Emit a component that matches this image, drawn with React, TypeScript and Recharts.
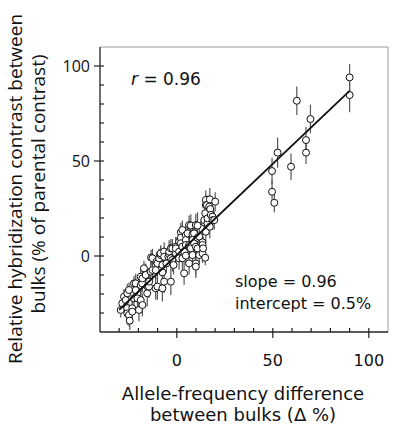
import React from "react";
import {
  ScatterChart,
  Scatter,
  XAxis,
  YAxis,
  ErrorBar,
  ReferenceLine,
} from "recharts";

// allele-frequency difference between bulks (Δ %), one entry per marker
const alleleDiff = [
  -29.2, -28.4, -27.5, -26.6, -25.8, -25.8, -25.8, -24.9, -24.5, -24.9,
  -23.2, -23.2, -22.3, -22.3, -21.4, -21.4, -20.5, -19.7, -18.8, -18.8,
  -18.8, -18.0, -17.9, -17.9, -17.1, -16.2, -15.4, -15.3, -14.5, -14.4,
  -13.6, -13.4, -12.7, -12.7, -11.0, -11.0, -10.6, -10.1, -10.1, -9.2,
  -8.4, -8.4, -7.5, -7.5, -7.5, -6.6, -6.6, -6.6, -5.4, -4.4,
  -4.0, -4.0, -3.1, -3.1, -3.1, -2.3, -2.3, -1.7, -0.5, -0.5,
  -0.5, 1.2, 1.2, 1.2, 2.1, 2.1, 2.1, 2.9, 2.9, 2.9,
  3.8, 3.8, 4.7, 4.7, 4.7, 4.7, 5.6, 6.4, 6.4, 6.4,
  7.3, 7.3, 8.2, 8.2, 8.2, 9.0, 9.0, 9.9, 9.9, 9.9,
  9.9, 10.8, 10.8, 10.8, 11.7, 11.7, 13.4, 13.4, 13.4, 13.7,
  14.3, 14.3, 14.8, 14.8, 15.1, 15.1, 15.1, 15.7, 16.0, 16.0,
  16.9, 17.2, 17.2, 17.4, 17.7, 18.6, 18.6, 20.0, 19.5,
  49.6, 49.6, 50.8, 52.5, 59.5, 62.5, 67.3, 67.3, 69.6, 90.0, 90.0,
];

// relative hybridization contrast (% of parental contrast)
const hybContrast = [
  -28.4, -24.9, -21.4, -23.2, -19.6, -27.5, -30.2, -31.0, -34.0, -17.9,
  -27.5, -29.3, -22.3, -14.4, -17.9, -14.4, -22.3, -28.4, -23.2, -10.9,
  -15.3, -14.4, -25.8, -11.8, -6.5, -10.0, -19.6, -16.0, -16.1, -13.5,
  -8.2, -0.8, -7.4, -1.2, -17.0, -7.4, -3.0, -3.9, -16.1, -1.2,
  0.5, 1.4, -8.6, -4.7, -17.0, 2.3, -0.4, -13.5, -3.9, -0.4,
  1.0, 2.3, -13.5, 4.0, -1.2, 4.0, -2.1, -4.7, 4.9, 1.4,
  4.0, 7.5, 2.3, -1.2, 12.5, 9.6, 6.7, 13.7, 4.9, -1.2,
  2.3, -9.1, 11.0, 8.4, 5.8, 0.2, 11.9, 5.8, -3.9, 16.3,
  16.0, 4.0, 11.4, 8.4, 0.5, 6.7, 11.9, 16.3, 4.9, -3.9,
  -5.6, 16.0, 9.6, 4.0, 10.2, 0.5, 7.2, 5.8, 1.4, 4.0,
  17.7, 18.9, 22.5, -0.9, 12.8, 29.5, 26.8, 26.8, 17.2, 19.8,
  26.0, 29.8, 15.4, 24.7, 21.6, 20.7, 18.9, 28.6, 18.9,
  44.7, 33.8, 28.0, 54.4, 47.0, 81.7, 61.0, 54.4, 72.1, 94.0, 84.7,
];

// standard error of each contrast value
const contrastErr = [
  4, 5, 4, 6, 5, 5, 6, 6, 5, 4,
  6, 5, 5, 4, 6, 5, 5, 6, 7, 5,
  6, 5, 6, 5, 4, 6, 7, 5, 6, 5,
  5, 4, 6, 5, 6, 5, 5, 6, 7, 5,
  5, 4, 6, 5, 7, 5, 5, 6, 5, 5,
  5, 6, 7, 5, 5, 5, 6, 5, 5, 5,
  6, 5, 5, 6, 5, 6, 5, 5, 5, 6,
  5, 6, 5, 5, 6, 5, 5, 5, 6, 5,
  6, 5, 6, 5, 5, 5, 5, 6, 5, 6,
  6, 7, 5, 5, 6, 5, 5, 6, 5, 6,
  6, 5, 5, 4, 5, 5, 5, 5, 6, 5,
  6, 6, 6, 5, 5, 6, 5, 5, 5,
  7, 6, 5, 8, 7, 7.5, 7, 6, 7.5, 7, 9,
];

const slope = 0.96;
const intercept = 0.5;
const fitRange = [-30, 90];

const axisTicks = [-30, -20, -10, 0, 10, 20, 30, 40, 50, 60, 70, 80, 90, 100];
const labeledTicks = [0, 50, 100];

const points = alleleDiff.map((x, i) => ({
  x,
  y: hybContrast[i],
  err: contrastErr[i],
}));

const fitLine = fitRange.map((x) => ({ x, y: slope * x + intercept }));

const SANS = "'DejaVu Sans', Verdana, sans-serif";
const SEGOE = "'Open Sans', 'Noto Sans', sans-serif";

const XTick = ({ x, y, payload }: any) => {
  const major = labeledTicks.includes(payload.value);
  return (
    <g>
      <line x1={x} x2={x} y1={y - 4} y2={major ? y + 6 : y} stroke="#222" strokeWidth={1.2} />
      {major && (
        <text x={x} y={y + 34} textAnchor="middle" fontSize={16} fontFamily={SANS} fill="#111">
          {payload.value}
        </text>
      )}
    </g>
  );
};

const YTick = ({ x, y, payload }: any) => {
  const major = labeledTicks.includes(payload.value);
  return (
    <g>
      <line x1={major ? x - 6 : x} x2={x + 4} y1={y} y2={y} stroke="#222" strokeWidth={1.2} />
      {major && (
        <text x={x - 10} y={y + 6} textAnchor="end" fontSize={16} fontFamily={SEGOE} fill="#111">
          {payload.value}
        </text>
      )}
    </g>
  );
};

const Dot = ({ cx, cy }: any) => (
  <circle cx={cx} cy={cy} r={3.5} fill="#fff" stroke="#111" strokeWidth={1} />
);

export default function App() {
  return (
    <div style={{ position: "absolute", left: 0, top: 0, background: "#fff" }}>
      <ScatterChart
        width={394}
        height={432}
        margin={{ top: 47, right: 6, bottom: 0, left: 0 }}
      >
        <XAxis
          type="number"
          dataKey="x"
          domain={[-40, 110]}
          ticks={axisTicks}
          interval={0}
          tickSize={0}
          tickMargin={0}
          tick={<XTick />}
          height={100}
          axisLine={{ stroke: "#222", strokeWidth: 1.3 }}
        />
        <YAxis
          type="number"
          dataKey="y"
          domain={[-40, 110]}
          ticks={axisTicks}
          interval={0}
          tickSize={0}
          tickMargin={0}
          tick={<YTick />}
          width={100}
          axisLine={{ stroke: "#222", strokeWidth: 1.3 }}
        />
        <ReferenceLine y={110} stroke="#9a9a9a" strokeWidth={1} />
        <ReferenceLine x={110} stroke="#9a9a9a" strokeWidth={1} />
        <Scatter data={points} shape={<Dot />} isAnimationActive={false}>
          <ErrorBar dataKey="err" direction="y" width={0} stroke="#555" strokeWidth={1.2} />
        </Scatter>
        <Scatter
          data={fitLine}
          line={{ stroke: "#111", strokeWidth: 1.8 }}
          shape={() => <g />}
          isAnimationActive={false}
        />
        <text x={131} y={85} fontSize={17} fontFamily={SANS} fill="#111">
          <tspan fontStyle="italic">r</tspan> = 0.96
        </text>
        <text x={235} y={287} fontSize={16} fontFamily={SANS} fill="#111">
          slope = 0.96
        </text>
        <text x={235} y={309} fontSize={16} fontFamily={SANS} fill="#111">
          intercept = 0.5%
        </text>
        <text x={243} y={400} textAnchor="middle" fontSize={18} fontFamily={SANS} fill="#111">
          Allele-frequency difference
        </text>
        <text x={243} y={421} textAnchor="middle" fontSize={18} fontFamily={SANS} fill="#111">
          between bulks (Δ %)
        </text>
        <text
          transform="translate(22,189) rotate(-90)"
          textAnchor="middle"
          fontSize={19}
          fontFamily={SEGOE}
          fill="#111"
        >
          Relative hybridization contrast between
        </text>
        <text
          transform="translate(45,184) rotate(-90)"
          textAnchor="middle"
          fontSize={19}
          fontFamily={SEGOE}
          fill="#111"
        >
          bulks (% of parental contrast)
        </text>
      </ScatterChart>
    </div>
  );
}
